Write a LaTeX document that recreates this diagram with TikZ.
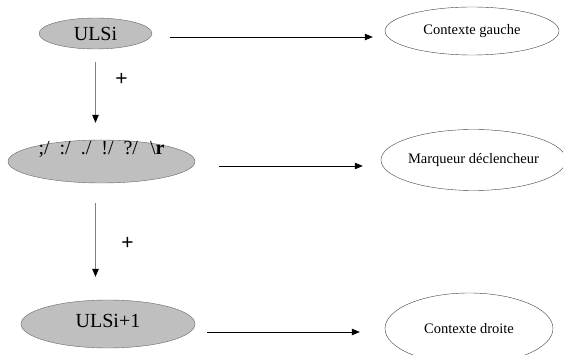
\documentclass[tikz,border=0pt]{standalone}
\usepackage{fontspec}
\setmainfont{Liberation Serif}
\newfontfamily\plusfont{Liberation Sans}
\usepackage{tikz}
\usetikzlibrary{positioning,shapes.geometric,arrows.meta}
\usepackage{xcolor}

\tikzset{
  uls/.style={draw=black!60, fill=black!25, ellipse, inner sep=0pt, font=\fontsize{20}{24}\selectfont},
  ctx/.style={draw=black!75, fill=white, ellipse, inner sep=0pt, font=\fontsize{14.5}{17}\selectfont},
  fleche/.style={-{Triangle[length=8pt,width=6.5pt]}, line width=0.7pt},
  vfleche/.style={-{Triangle[length=8pt,width=6.5pt,color=black]}, draw=black!50, line width=0.7pt},
  plus/.style={font=\plusfont\fontsize{21}{21}\selectfont, inner sep=0pt}
}

\begin{document}
\begin{tikzpicture}[x=1pt,y=-1pt]
                \useasboundingbox (0,0) rectangle (563,355);
                \node[uls, minimum width=113pt, minimum height=31pt](ulsi) at (95.5,33.5){ULSi};
                \node[uls, minimum width=187pt, minimum height=43pt, text height=8pt, text depth=21pt](marq) at (101.5,161.5){;/\hspace{10pt}:/\hspace{10pt}./\hspace{10pt}!/\hspace{10pt}?/\hspace{12pt}\textbackslash\textbf{r}};
                \node[uls, minimum width=174pt, minimum height=48pt, text height=7pt, text depth=0pt](ulsisuiv) at (108,324){ULSi+1};
                \node[ctx, minimum width=174pt, minimum height=48pt](ctxg) at (472,31){Contexte gauche};
                \node[ctx, minimum width=177pt, minimum height=61pt](decl) at (473.5,160){Marqueur déclencheur};
                \node[ctx, minimum width=168pt, minimum height=71pt](ctxd) at (469,328.5){Contexte droite};
                \node[plus](p1) at (121.5,79){+};
                \node[plus](p2) at (127.5,243.5){+};
                \draw[fleche] ([xshift=18pt,yshift=-3.5pt]ulsi.east) -- ([xshift=-12pt,yshift=-6pt]ctxg.west);
                \draw[fleche] ([xshift=24pt,yshift=-4.5pt]marq.east) -- ([xshift=-18pt,yshift=-6pt]decl.west);
                \draw[fleche] ([xshift=12pt,yshift=-8pt]ulsisuiv.east) -- ([xshift=-25pt,yshift=-3.5pt]ctxd.west);
                \draw[vfleche, shorten <=13pt, shorten >=17pt] (ulsi.south) -- (ulsi.south |- marq.north);
                \draw[vfleche, shorten <=20pt, shorten >=23pt] (ulsi.south |- marq.south) -- (ulsi.south |- ulsisuiv.north);
\end{tikzpicture}
\end{document}
